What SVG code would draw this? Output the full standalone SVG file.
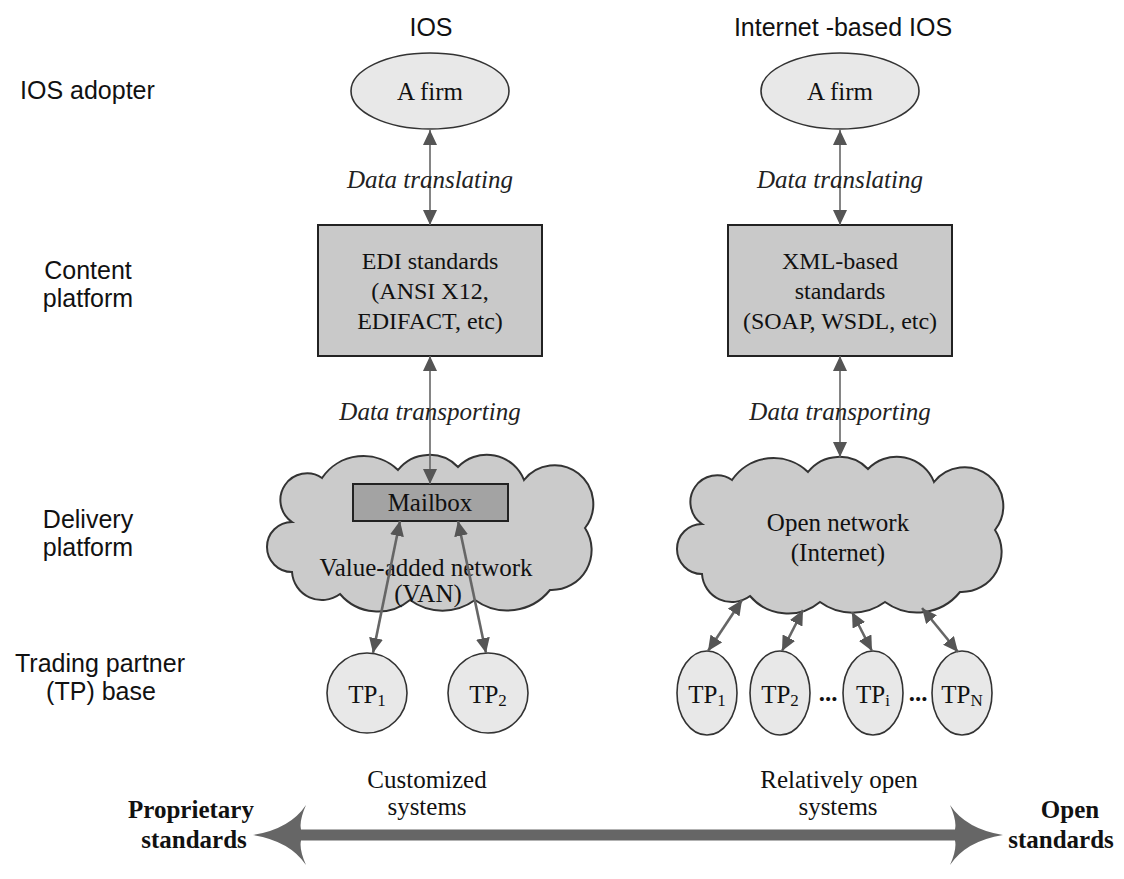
<svg xmlns="http://www.w3.org/2000/svg" width="1124" height="879" viewBox="0 0 1124 879">
  <defs>
    <style>
      .sans{font-family:"Liberation Sans",Arial,sans-serif;font-size:25px;fill:#111}
      .serif{font-family:"Liberation Serif","Times New Roman",serif;font-size:25px;fill:#111}
      .it{font-style:italic;fill:#222}
      .bold{font-weight:bold}
      .mid{text-anchor:middle}
      .sub{font-size:17px}
      .boxtext{font-size:24px}
      .oval{fill:#e8e8e8;stroke:#333;stroke-width:1.6}
      .box{fill:#c9c9c9;stroke:#222;stroke-width:2}
      .cloud{fill:#cbcbcb;stroke:#333;stroke-width:2}
      .mail{fill:#a3a3a3;stroke:#222;stroke-width:2}
      .link{stroke:#666;stroke-width:1.6;fill:none}
      .thick{stroke-width:2.6}
      .axis{fill:#666}
    </style>
    <marker id="ah" viewBox="0 0 15 14" refX="15" refY="7" markerWidth="15" markerHeight="14" markerUnits="userSpaceOnUse" orient="auto-start-reverse">
      <path d="M0,0 L15,7 L0,14 Z" fill="#555"/>
    </marker>
    <!-- bumpy cloud outline, drawn for the left column and shifted for the right -->
    <path id="cloudShape" d="M292,522 A26.6,26.6 0 0 1 322,478 A50,50 0 0 1 398,470 A40,40 0 0 1 458,467 A40,40 0 0 1 524,480 A38.8,38.8 0 0 1 585,528 A40,40 0 0 1 550,590 A55,55 0 0 1 475,600 A55,55 0 0 1 410,600 A50,50 0 0 1 340,594 A30,30 0 0 1 292,572 A25,25 0 0 1 292,522 Z"/>
  </defs>

  <rect width="1124" height="879" fill="#fff"/>

  <!-- column headers and row labels -->
  <g id="headers">
    <text class="sans mid" x="431" y="36">IOS</text>
    <text class="sans mid" x="843" y="36">Internet -based IOS</text>
  </g>
  <g id="row-labels">
    <text class="sans" x="20" y="99">IOS adopter</text>
    <text class="sans mid" x="88" y="279">Content</text>
    <text class="sans mid" x="88" y="307">platform</text>
    <text class="sans mid" x="88" y="528">Delivery</text>
    <text class="sans mid" x="88" y="556">platform</text>
    <text class="sans mid" x="100" y="672">Trading partner</text>
    <text class="sans mid" x="101" y="700">(TP) base</text>
  </g>

  <!-- IOS column -->
  <g id="firm-ios">
    <ellipse class="oval" cx="430" cy="91" rx="79" ry="38"/>
    <text class="serif mid" x="430" y="100">A firm</text>
  </g>
  <g id="edi-standards">
    <rect class="box" x="318" y="225" width="224" height="131"/>
    <text class="serif boxtext mid" x="430" y="269">EDI standards</text>
    <text class="serif boxtext mid" x="430" y="299">(ANSI X12,</text>
    <text class="serif boxtext mid" x="430" y="329">EDIFACT, etc)</text>
  </g>
  <g id="van">
    <use href="#cloudShape" class="cloud"/>
    <text class="serif mid" x="426" y="576">Value-added network</text>
    <text class="serif mid" x="428" y="602">(VAN)</text>
  </g>
  <g id="mailbox">
    <rect class="mail" x="353" y="484" width="155" height="37"/>
    <text class="serif mid" x="430" y="511">Mailbox</text>
  </g>
  <g id="tp1-ios">
    <circle class="oval" cx="367" cy="693" r="40"/>
    <text class="serif mid" x="367" y="703">TP<tspan class="sub" dy="3">1</tspan></text>
  </g>
  <g id="tp2-ios">
    <circle class="oval" cx="488" cy="693" r="40"/>
    <text class="serif mid" x="488" y="703">TP<tspan class="sub" dy="3">2</tspan></text>
  </g>

  <!-- Internet-based IOS column -->
  <g id="firm-internet">
    <ellipse class="oval" cx="840" cy="91" rx="79" ry="38"/>
    <text class="serif mid" x="840" y="100">A firm</text>
  </g>
  <g id="xml-standards">
    <rect class="box" x="728" y="225" width="224" height="131"/>
    <text class="serif boxtext mid" x="840" y="269">XML-based</text>
    <text class="serif boxtext mid" x="840" y="299">standards</text>
    <text class="serif boxtext mid" x="840" y="329">(SOAP, WSDL, etc)</text>
  </g>
  <g id="open-network">
    <use href="#cloudShape" class="cloud" transform="translate(410,2)"/>
    <text class="serif mid" x="838" y="531">Open network</text>
    <text class="serif mid" x="838" y="561">(Internet)</text>
  </g>
  <g id="tp1-net">
    <ellipse class="oval" cx="707" cy="693" rx="30" ry="42"/>
    <text class="serif mid" x="707" y="703">TP<tspan class="sub" dy="3">1</tspan></text>
  </g>
  <g id="tp2-net">
    <ellipse class="oval" cx="780" cy="693" rx="30" ry="42"/>
    <text class="serif mid" x="780" y="703">TP<tspan class="sub" dy="3">2</tspan></text>
  </g>
  <g id="tpi-net">
    <ellipse class="oval" cx="873" cy="693" rx="30" ry="42"/>
    <text class="serif mid" x="873" y="703">TP<tspan class="sub" dy="3">i</tspan></text>
  </g>
  <g id="tpn-net">
    <ellipse class="oval" cx="962" cy="693" rx="30" ry="42"/>
    <text class="serif mid" x="962" y="703">TP<tspan class="sub" dy="3">N</tspan></text>
  </g>
  <g id="ellipsis">
    <text class="serif bold mid" x="828" y="701">...</text>
    <text class="serif bold mid" x="918" y="701">...</text>
  </g>

  <!-- connectors -->
  <g id="connectors">
    <line class="link" x1="430" y1="130" x2="430" y2="225" marker-start="url(#ah)" marker-end="url(#ah)"/>
    <line class="link" x1="430" y1="356" x2="430" y2="484" marker-start="url(#ah)" marker-end="url(#ah)"/>
    <line class="link thick" x1="400" y1="521" x2="373" y2="653" marker-start="url(#ah)" marker-end="url(#ah)"/>
    <line class="link thick" x1="458" y1="521" x2="486" y2="653" marker-start="url(#ah)" marker-end="url(#ah)"/>

    <line class="link" x1="840" y1="130" x2="840" y2="225" marker-start="url(#ah)" marker-end="url(#ah)"/>
    <line class="link" x1="840" y1="356" x2="840" y2="457" marker-start="url(#ah)" marker-end="url(#ah)"/>
    <line class="link thick" x1="742" y1="600" x2="708" y2="651" marker-start="url(#ah)" marker-end="url(#ah)"/>
    <line class="link thick" x1="803" y1="610" x2="782" y2="651" marker-start="url(#ah)" marker-end="url(#ah)"/>
    <line class="link thick" x1="852" y1="612" x2="872" y2="651" marker-start="url(#ah)" marker-end="url(#ah)"/>
    <line class="link thick" x1="922" y1="608" x2="958" y2="652" marker-start="url(#ah)" marker-end="url(#ah)"/>
  </g>

  <!-- connector labels -->
  <g id="connector-labels">
    <text class="serif it mid" x="430" y="188">Data translating</text>
    <text class="serif it mid" x="840" y="188">Data translating</text>
    <text class="serif it mid" x="430" y="420">Data transporting</text>
    <text class="serif it mid" x="840" y="420">Data transporting</text>
  </g>

  <!-- openness scale -->
  <g id="scale">
    <path class="axis" d="M253,835 Q290,829 306,805 Q299,821 301,829.5 L955,829.5 Q957,821 950,805 Q966,829 1003,835 Q966,841 950,865 Q957,849 955,840.5 L301,840.5 Q299,849 306,865 Q290,841 253,835 Z"/>
    <text class="serif mid" x="427" y="788">Customized</text>
    <text class="serif mid" x="427" y="815">systems</text>
    <text class="serif mid" x="839" y="788">Relatively open</text>
    <text class="serif mid" x="838" y="815">systems</text>
    <text class="serif bold mid" x="191" y="818">Proprietary</text>
    <text class="serif bold mid" x="194" y="848">standards</text>
    <text class="serif bold mid" x="1070" y="818">Open</text>
    <text class="serif bold mid" x="1061" y="848">standards</text>
  </g>
</svg>
